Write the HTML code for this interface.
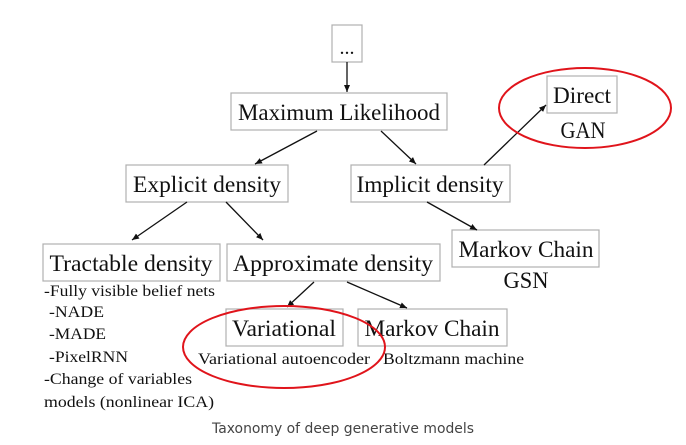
<!DOCTYPE html>
<html><head><meta charset="utf-8"><style>
html,body{margin:0;padding:0;background:#fff;}
svg{display:block;}
.b{fill:#fff;stroke:#b0b0b0;stroke-width:1.2;}
.t{font-family:"Liberation Serif",serif;fill:#111;}
.l{stroke:#111;stroke-width:1.3;marker-end:url(#a);}
</style></head><body>
<svg width="686" height="445" viewBox="0 0 686 445" xmlns="http://www.w3.org/2000/svg">
<defs><marker id="a" markerWidth="8" markerHeight="8" refX="7" refY="4" orient="auto" markerUnits="userSpaceOnUse"><path d="M0,1 L7,4 L0,7 Z" fill="#111"/></marker></defs>
<rect class="b" x="332" y="25" width="30" height="37"/>
<text class="t" x="347" y="54" font-size="20" text-anchor="middle">...</text>
<rect class="b" x="231" y="93" width="216" height="37"/>
<text class="t" x="339" y="120" font-size="23" text-anchor="middle" textLength="202" lengthAdjust="spacingAndGlyphs">Maximum Likelihood</text>
<rect class="b" x="126" y="165" width="162" height="37"/>
<text class="t" x="207" y="192" font-size="23" text-anchor="middle" textLength="148" lengthAdjust="spacingAndGlyphs">Explicit density</text>
<rect class="b" x="351" y="165" width="159" height="37"/>
<text class="t" x="430" y="192" font-size="23" text-anchor="middle" textLength="147" lengthAdjust="spacingAndGlyphs">Implicit density</text>
<rect class="b" x="547" y="76" width="70" height="37"/>
<text class="t" x="582" y="103" font-size="23" text-anchor="middle" textLength="58" lengthAdjust="spacingAndGlyphs">Direct</text>
<text class="t" x="583" y="138" font-size="23" text-anchor="middle" textLength="45" lengthAdjust="spacingAndGlyphs">GAN</text>
<rect class="b" x="43" y="244" width="177" height="37"/>
<text class="t" x="131" y="271" font-size="23" text-anchor="middle" textLength="163" lengthAdjust="spacingAndGlyphs">Tractable density</text>
<rect class="b" x="227" y="244" width="213" height="37"/>
<text class="t" x="333" y="271" font-size="23" text-anchor="middle" textLength="200" lengthAdjust="spacingAndGlyphs">Approximate density</text>
<rect class="b" x="452" y="230" width="147" height="37"/>
<text class="t" x="526" y="257" font-size="23" text-anchor="middle" textLength="135" lengthAdjust="spacingAndGlyphs">Markov Chain</text>
<text class="t" x="526" y="288" font-size="23" text-anchor="middle" textLength="45" lengthAdjust="spacingAndGlyphs">GSN</text>
<rect class="b" x="226" y="309" width="117" height="37"/>
<text class="t" x="284" y="336" font-size="23" text-anchor="middle" textLength="104" lengthAdjust="spacingAndGlyphs">Variational</text>
<rect class="b" x="358" y="309" width="149" height="37"/>
<text class="t" x="432" y="336" font-size="23" text-anchor="middle" textLength="135" lengthAdjust="spacingAndGlyphs">Markov Chain</text>
<text class="t" x="198" y="364" font-size="16" textLength="172" lengthAdjust="spacingAndGlyphs">Variational autoencoder</text>
<text class="t" x="383" y="364" font-size="16" textLength="141" lengthAdjust="spacingAndGlyphs">Boltzmann machine</text>
<g class="t" font-size="16">
<text x="44" y="296" textLength="171" lengthAdjust="spacingAndGlyphs">-Fully visible belief nets</text>
<text x="49" y="317" textLength="55" lengthAdjust="spacingAndGlyphs">-NADE</text>
<text x="49" y="339" textLength="57" lengthAdjust="spacingAndGlyphs">-MADE</text>
<text x="49" y="362" textLength="79" lengthAdjust="spacingAndGlyphs">-PixelRNN</text>
<text x="44" y="384" textLength="148" lengthAdjust="spacingAndGlyphs">-Change of variables</text>
<text x="44" y="407" textLength="170" lengthAdjust="spacingAndGlyphs">models (nonlinear ICA)</text>
</g>
<line class="l" x1="347" y1="62" x2="347" y2="92"/>
<line class="l" x1="317" y1="131" x2="255" y2="164"/>
<line class="l" x1="381" y1="131" x2="416" y2="164"/>
<line class="l" x1="187" y1="202" x2="132" y2="240"/>
<line class="l" x1="226" y1="202" x2="263" y2="240"/>
<line class="l" x1="427" y1="202" x2="477" y2="230"/>
<line class="l" x1="484" y1="165" x2="546" y2="105"/>
<line class="l" x1="314" y1="282" x2="287" y2="307"/>
<line class="l" x1="347" y1="282" x2="407" y2="308"/>
<ellipse cx="585" cy="108" rx="86" ry="40" fill="none" stroke="#e0141b" stroke-width="2"/>
<ellipse cx="284" cy="347" rx="101" ry="41" fill="none" stroke="#e0141b" stroke-width="2"/>
<text x="343" y="433" font-family="'DejaVu Sans','Liberation Sans',sans-serif" font-size="14" fill="#444" text-anchor="middle" textLength="262" lengthAdjust="spacingAndGlyphs">Taxonomy of deep generative models</text>
</svg>
</body></html>
